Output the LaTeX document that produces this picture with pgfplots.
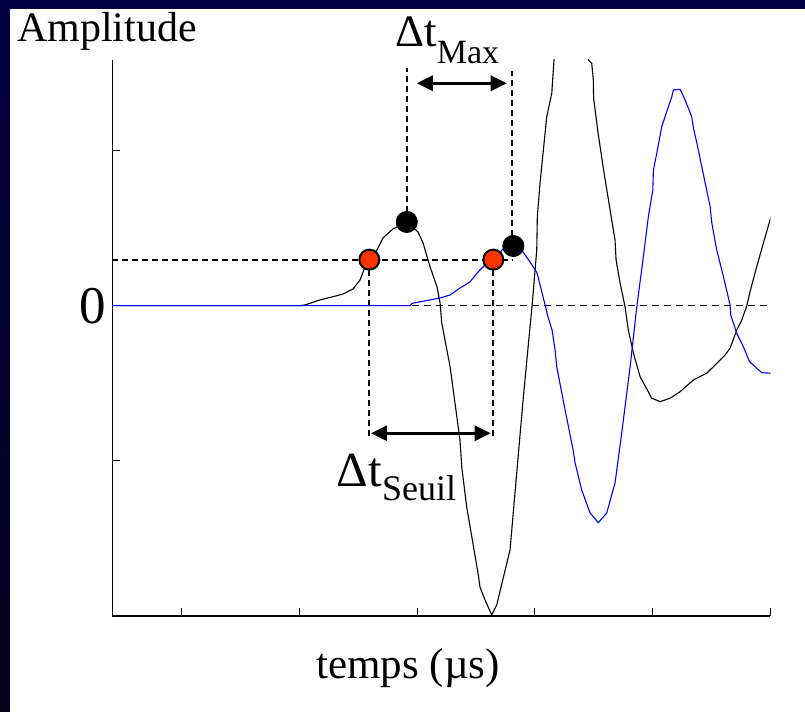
\documentclass[border=0pt]{standalone}
\usepackage{pgfplots}
\pgfplotsset{compat=1.18}
\usepackage{fontspec}
\setmainfont{Liberation Serif}
\usetikzlibrary{arrows.meta}

\definecolor{navytop}{RGB}{0,0,66}
\definecolor{navybot}{RGB}{4,0,26}
\definecolor{dotred}{RGB}{255,51,0}
\definecolor{sigblue}{RGB}{0,0,255}

\begin{document}
\begin{tikzpicture}
% frame in pixels of the reference: 1px = 0.5pt, axis corner at (0,0)
\begin{scope}[x=0.5pt,y=-0.5pt,shift={(-56.15pt,308pt)}]
  \useasboundingbox (0,0) rectangle (805,712);
  \shade[top color=navytop, bottom color=navybot] (0,0) rectangle (805,712);
  \fill[white] (10,9) rectangle (805,712);
  \node[anchor=base west, inner sep=0pt, font=\fontsize{21}{21}\selectfont] at (16.7,41.7) {Amplitude};
  \node[anchor=base west, inner sep=0pt, font=\fontsize{21.5}{21.5}\selectfont] at (316,678.3) {temps (µs)};
  \node[anchor=base west, inner sep=0pt, font=\fontsize{22.5}{22.5}\selectfont] at (395,46.7)
    {Δt\raisebox{-8.3pt}{\fontsize{17}{17}\selectfont Max}};
  \node[anchor=base west, inner sep=0pt, font=\fontsize{24.5}{24.5}\selectfont] at (336.6,486.7)
    {Δt\raisebox{-6.7pt}{\fontsize{18}{18}\selectfont Seuil}};
\end{scope}

\begin{axis}[
  at={(0pt,0pt)}, anchor=south west,
  scale only axis, width=329pt, height=278pt,
  xmin=0.4104, xmax=6.0, ymin=-2.002, ymax=1.585,
  axis x line*=bottom, axis y line*=left,
  axis line style={line width=0.6pt},
  tick align=inside, major tick length=4pt,
  tick style={black, line width=0.5pt},
  xtick={1,2,3,4,5,6}, xticklabel=\empty,
  ytick={-1,0,1}, yticklabels={,0,},
  yticklabel style={font=\fontsize{26.5}{26.5}\selectfont, inner sep=0pt, xshift=-3pt},
]
  % zero line
  \addplot[black, line width=0.5pt, dash pattern=on 3.5pt off 2.5pt] coordinates {(0.410,0) (5.970,0)};

  % first signal (black)
  \addplot[black, line width=0.55pt, line join=round] coordinates {
    (0.410,0) (2.005,0) (2.048,0.005) (2.175,0.037) (2.285,0.058) (2.370,0.075)
    (2.455,0.108) (2.515,0.166) (2.557,0.250) (2.594,0.299) (2.659,0.359) (2.710,0.437)
    (2.795,0.495) (2.912,0.540) (3.008,0.475) (3.050,0.405) (3.110,0.250) (3.169,0.121)
    (3.195,0.017) (3.209,-0.112) (3.280,-0.395) (3.364,-0.866) (3.379,-1.041) (3.421,-1.299)
    (3.517,-1.725) (3.534,-1.815) (3.577,-1.899) (3.634,-1.995) (3.676,-1.931) (3.789,-1.576)
    (3.846,-1.079) (3.900,-0.608) (3.959,-0.137) (3.976,-0.006) (4.016,0.359) (4.021,0.574)
    (4.044,0.792) (4.101,1.219) (4.144,1.372) (4.155,1.501) (4.163,1.585) (4.300,2.100)
    (4.455,1.585) (4.483,1.564) (4.497,1.456) (4.499,1.340) (4.537,1.114) (4.580,0.895)
    (4.639,0.617) (4.681,0.424) (4.690,0.295) (4.724,0.146) (4.766,-0.006) (4.794,-0.157)
    (4.837,-0.305) (4.894,-0.458) (4.993,-0.597) (5.064,-0.619) (5.149,-0.597) (5.234,-0.555)
    (5.347,-0.479) (5.460,-0.436) (5.545,-0.372) (5.616,-0.318) (5.658,-0.275) (5.715,-0.157)
    (5.758,-0.092) (5.800,-0.002) (5.828,0.090) (5.885,0.252) (5.941,0.403) (5.998,0.553)
    (6.024,0.617)
  };

  % second signal (blue)
  \addplot[sigblue, line width=0.55pt, line join=round] coordinates {
    (0.410,0) (2.940,0) (2.957,0.015) (3.110,0.037) (3.195,0.050) (3.280,0.069)
    (3.364,0.114) (3.449,0.153) (3.517,0.217) (3.577,0.263) (3.647,0.295) (3.730,0.366)
    (3.817,0.385) (3.900,0.346) (3.959,0.282) (4.019,0.211) (4.070,0.056) (4.112,-0.073)
    (4.146,-0.157) (4.172,-0.286) (4.186,-0.395) (4.257,-0.673) (4.325,-0.931) (4.342,-1.015)
    (4.398,-1.189) (4.469,-1.337) (4.539,-1.400) (4.611,-1.337) (4.681,-1.144) (4.738,-0.821)
    (4.809,-0.395) (4.866,-0.006) (4.922,0.316) (4.964,0.574) (5.002,0.746) (5.007,0.875)
    (5.036,0.985) (5.078,1.155) (5.106,1.219) (5.163,1.348) (5.177,1.392) (5.234,1.396)
    (5.276,1.327) (5.333,1.219) (5.347,1.146) (5.376,1.050) (5.418,0.897) (5.489,0.639)
    (5.503,0.534) (5.545,0.359) (5.602,0.187) (5.658,0.005) (5.664,-0.060) (5.715,-0.178)
    (5.771,-0.265) (5.823,-0.361) (5.885,-0.404) (5.928,-0.432) (6.001,-0.436) (6.020,-0.436)
  };

  % threshold and guide lines
  \addplot[black, line width=1pt, dash pattern=on 3pt off 2pt] coordinates {(0.410,0.297) (3.817,0.297)};
  \addplot[black, line width=1pt, dash pattern=on 3pt off 2pt] coordinates {(2.594,0.297) (2.594,-0.845)};
  \addplot[black, line width=1pt, dash pattern=on 3pt off 2pt] coordinates {(3.647,0.297) (3.647,-0.845)};
  \addplot[black, line width=1pt, dash pattern=on 3pt off 2pt] coordinates {(2.915,0.540) (2.915,1.534)};
  \addplot[black, line width=1pt, dash pattern=on 3pt off 2pt] coordinates {(3.810,0.385) (3.810,1.514)};

  % delta t arrows
  \draw[line width=1.5pt, {Triangle[length=8pt,width=7.5pt]}-{Triangle[length=8pt,width=7.5pt]}]
    (axis cs:2.997,1.435) -- (axis cs:3.761,1.435);
  \draw[line width=1.5pt, {Triangle[length=8pt,width=7.5pt]}-{Triangle[length=8pt,width=7.5pt]}]
    (axis cs:2.608,-0.823) -- (axis cs:3.625,-0.823);

  % picked points
  \addplot[only marks, mark=*, mark size=5pt, mark options={fill=dotred, draw=black, line width=1pt}]
    coordinates {(2.594,0.297) (3.647,0.297)};
  \addplot[only marks, mark=*, mark size=5pt, mark options={fill=black, draw=black, line width=1pt}]
    coordinates {(2.912,0.540) (3.817,0.385)};
\end{axis}
\end{tikzpicture}
\end{document}
